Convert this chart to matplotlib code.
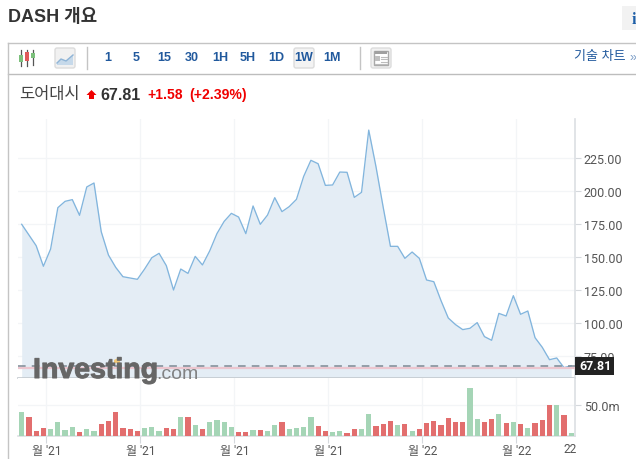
import matplotlib
matplotlib.use('Agg')
import matplotlib.pyplot as plt
import matplotlib.patheffects as pe
from matplotlib.patches import Rectangle, FancyBboxPatch, Polygon

# values
price = [175.0, 166.9, 158.8, 143.2, 156.3, 187.6, 192.4, 193.7, 181.8, 203.3, 206.3, 169.4, 151.7,
         142.4, 135.3, 134.3, 133.3, 141.1, 149.7, 153.0, 143.7, 125.2, 141.1, 137.8, 150.7, 144.2,
         154.8, 167.9, 177.2, 183.3, 180.5, 167.9, 188.9, 175.0, 182.0, 195.2, 184.6, 188.4, 193.9,
         211.3, 223.5, 220.9, 204.5, 204.8, 214.6, 214.4, 195.4, 199.2, 246.4, 218.7, 187.9, 158.3,
         158.3, 149.2, 154.0, 149.2, 132.8, 131.5, 117.1, 104.0, 99.0, 95.2, 96.2, 100.5, 89.9, 87.1,
         107.5, 105.5, 120.9, 106.8, 109.3, 89.1, 81.8, 72.4, 73.7, 66.4, 67.81]
volume = [38.8, 30.3, 8.0, 12.8, 11.2, 22.3, 9.6, 14.4, 6.4, 11.2, 8.0, 19.2, 23.9, 38.3, 12.8, 11.2,
          8.0, 12.8, 14.4, 8.0, 12.8, 11.2, 30.3, 30.3, 17.6, 11.2, 22.3,
          25.5, 22.3, 14.4, 6.4, 6.4, 9.6, 9.6, 8.0, 17.6, 22.3, 11.2, 12.8, 14.4, 30.3, 16.0, 8.0, 6.4,
          8.0, 4.8, 11.2, 11.2, 35.1, 16.0, 19.2, 23.9, 17.6, 19.2, 8.0, 11.2,
          20.7, 23.9, 17.6, 28.7, 22.3, 22.3, 76.6, 27.1, 22.3, 27.1, 35.1, 20.7, 22.3, 19.2, 12.8, 20.7,
          25.5, 49.5, 49.5, 33.5, 4.8]
vol_dir = list('grrrggggrggrrrrrrgggrrgrgrg'
               'gggrrgrggrggggrrggrrggrrrgrgr'
               'rrrrrrggrrgrgrgrrrgrg')
price_ticks = [75, 100, 125, 150, 175, 200, 225]
price_labels = ['75.00', '100.00', '125.00', '150.00', '175.00', '200.00', '225.00']
date_ticks = [3.43, 16.43, 29.43, 42.43, 55.43, 68.43]
date_labels = ["월 '21", "월 '21", "월 '21", "월 '21", "월 '22", "월 '22"]
intervals = ['1', '5', '15', '30', '1H', '5H', '1D', '1W', '1M']

W, H = 636, 460
KR = ['Liberation Sans', 'Noto Sans CJK KR']
TICK = ['Roboto', 'Noto Sans CJK KR']
px = 72 / 100  # font size for a pixel height at dpi 100

fig = plt.figure(figsize=(W / 100, H / 100), dpi=100)
x_range = ((18 - 21.7) / 7.23, (575.3 - 21.7) / 7.23)
x = list(range(len(price)))
grid_c = '#f3f5f7'

# price panel
ax = fig.add_axes([18 / W, (H - 379.3) / H, (575.3 - 18) / W, (379.3 - 120) / H])
ax.fill_between(x, price, 50, color='#e4edf5', lw=0, zorder=1)
ax.plot(x, price, color='#82b5dd', lw=0.95, zorder=3)
ax.axhline(67.81, color='#7d8994', lw=1.1, dashes=(5, 4), zorder=4)
ax.axhline(66.0, color='#ecc6cf', lw=1.6, zorder=3)
ax.set_xlim(x_range)
ax.set_ylim(58.3, 254.8)
ax.yaxis.tick_right()
ax.set_yticks(price_ticks, price_labels, family=TICK, fontsize=12.5 * px, color='#555555')
ax.set_xticks(date_ticks)
ax.tick_params(axis='x', length=0, labelbottom=False)
ax.tick_params(axis='y', length=4, width=0.8, color='#d5d9dd', pad=2)
ax.grid(True, color=grid_c, lw=0.9, zorder=0)
ax.set_axisbelow(True)
for s in ['top', 'left']:
    ax.spines[s].set_visible(False)
ax.spines['bottom'].set_color('#c3c9cf')
ax.spines['bottom'].set_linewidth(1.2)
ax.spines['right'].set_color('#dcdfe3')
ax.spines['right'].set_linewidth(1.2)

# volume panel
ax2 = fig.add_axes([18 / W, (H - 437.3) / H, (575.3 - 18) / W, (437.3 - 379.3) / H])
bar_c = ['#a5d5b6' if d == 'g' else '#e26e6e' for d in vol_dir]
ax2.bar(x, volume, width=0.72, color=bar_c, lw=0, zorder=3)
ax2.set_xlim(x_range)
ax2.set_ylim(0, 91.5)
ax2.yaxis.tick_right()
ax2.set_yticks([50], ['50.0m'], family=TICK, fontsize=12.5 * px, color='#555555')
ax2.set_xticks(date_ticks, date_labels, family=TICK, fontsize=12 * px, color='#555555')
ax2.tick_params(axis='x', length=5, width=0.8, color='#d5d9dd', pad=0.5)
ax2.tick_params(axis='y', length=4, width=0.8, color='#d5d9dd', pad=2)
ax2.grid(True, color=grid_c, lw=0.9, zorder=0)
ax2.set_axisbelow(True)
for s in ['top', 'left']:
    ax2.spines[s].set_visible(False)
ax2.spines['bottom'].set_color('#dcdfe3')
ax2.spines['bottom'].set_linewidth(1.2)
ax2.spines['right'].set_color('#dcdfe3')
ax2.spines['right'].set_linewidth(1.2)

# everything around the chart, in picture pixels
ov = fig.add_axes([0, 0, 1, 1], zorder=10)
ov.set_xlim(0, W)
ov.set_ylim(H, 0)
ov.axis('off')
ov.patch.set_alpha(0)

# title and info button
ov.text(8, 17, 'DASH 개요', family=KR, fontsize=18 * px, fontweight='bold', color='#333333', va='center')
ov.add_patch(Rectangle((622, 7), 14, 24, color='#f2f2f2', lw=0))
ov.text(634, 19.5, 'i', family='Liberation Serif', fontsize=16 * px, fontweight='bold', color='#1e5fa8',
        ha='center', va='center')

# toolbar frame
line_c = '#c4c4c4'
ov.plot([7.5, W], [43.5, 43.5], color=line_c, lw=1)
ov.plot([7.5, W], [74.5, 74.5], color='#bdbdbd', lw=1)
ov.plot([7.5, 7.5], [43.5, H], color=line_c, lw=1)
ov.plot([86.5, 86.5], [48, 70], color=line_c, lw=1)
ov.plot([359.5, 359.5], [48, 70], color=line_c, lw=1)

# candle icon
for cx, y0, y1, top, bot, c in [(21, 51, 67, 56, 63, '#7cc07c'), (27, 51, 67, 53, 62, '#e05a5a'),
                                (33, 51, 66, 54, 59, '#7cc07c')]:
    ov.plot([cx, cx], [y0, y1], color='#555555', lw=0.9)
    ov.add_patch(Rectangle((cx - 2, top), 4, bot - top, color=c, lw=0, zorder=3))

# area icon button
ov.add_patch(FancyBboxPatch((55, 49), 20, 20, boxstyle='round,pad=0,rounding_size=2', fc='#f1f1f1',
                            ec='#dcdcdc', lw=1))
ov.add_patch(Polygon([(57, 64), (61, 60), (66, 62), (73, 56), (73, 66), (57, 66)], fc='#c6d9ea', lw=0))
ov.plot([57, 61, 66, 73], [64, 60, 62, 56], color='#8fb4d6', lw=1)

# interval buttons
ov.add_patch(FancyBboxPatch((294, 49), 20, 20, boxstyle='round,pad=0,rounding_size=2', fc='#f3f3f3',
                            ec='#dcdcdc', lw=1))
for i, t in enumerate(intervals):
    ov.text(108 + 28 * i, 58, t, family=KR, fontsize=12.5 * px, fontweight='bold', color='#21599d',
            ha='center', va='center')

# news icon button
ov.add_patch(FancyBboxPatch((371, 49), 20, 20, boxstyle='round,pad=0,rounding_size=2', fc='#f1f1f1',
                            ec='#dcdcdc', lw=1))
ov.add_patch(Rectangle((374, 52), 14, 14, fc='white', ec='#a9a9a9', lw=1))
ov.add_patch(Rectangle((375, 52), 12, 3, color='#a0a0a0', lw=0))
ov.add_patch(Rectangle((375, 57), 5, 5, color='#c0c0c0', lw=0))
for ly in [57.5, 60, 62.5, 64.5]:
    ov.plot([381 if ly < 63 else 375, 387], [ly, ly], color='#bdbdbd', lw=0.8)

ov.text(574, 57, '기술 차트', family=KR, fontsize=13 * px, color='#21599d', va='center')
ov.text(630, 58, '»', family=KR, fontsize=12.5 * px, color='#7a9cc6', va='center')

# quote line
ov.text(19, 95, '도어대시', family=KR, fontsize=16.5 * px, color='#444444', va='center')
ov.add_patch(Polygon([(91.5, 91), (96.5, 96), (94, 96), (94, 100), (89, 100), (89, 96), (86.5, 96)],
                     color='#f00000', lw=0))
ov.text(100.5, 95, '67.81', family=KR, fontsize=16 * px, fontweight='bold', color='#333333', va='center')
ov.text(147, 95, '+1.58', family=KR, fontsize=14 * px, fontweight='bold', color='#f00000', va='center')
ov.text(189, 95, '(+2.39%)', family=KR, fontsize=14 * px, fontweight='bold', color='#f00000', va='center')

# watermark
heavy = [pe.withStroke(linewidth=0.8, foreground='#666666')]
ov.text(33, 371, 'Investing', family='Liberation Sans', fontsize=28.5 * px, fontweight='bold', color='#666666',
        alpha=0.92, va='center', path_effects=heavy)
ov.text(156, 375, '.com', family='Liberation Sans', fontsize=19.5 * px, color='#777777', alpha=0.9, va='center')
ov.add_patch(Polygon([(114, 361), (120, 358), (120, 364), (114, 364)], color='#f2c879', lw=0))

# last price tag and the clipped label at the end of the date axis
ov.add_patch(Rectangle((575, 357.7), 39, 18, color='#222222', lw=0))
ov.text(595.5, 367, '67.81', family=TICK, fontsize=12.5 * px, fontweight='bold', color='white', ha='center',
        va='center')
ov.text(570.5, 450, '22', family=TICK, fontsize=12 * px, color='#555555', ha='center', va='center')

fig.savefig('out.png', dpi=100)
